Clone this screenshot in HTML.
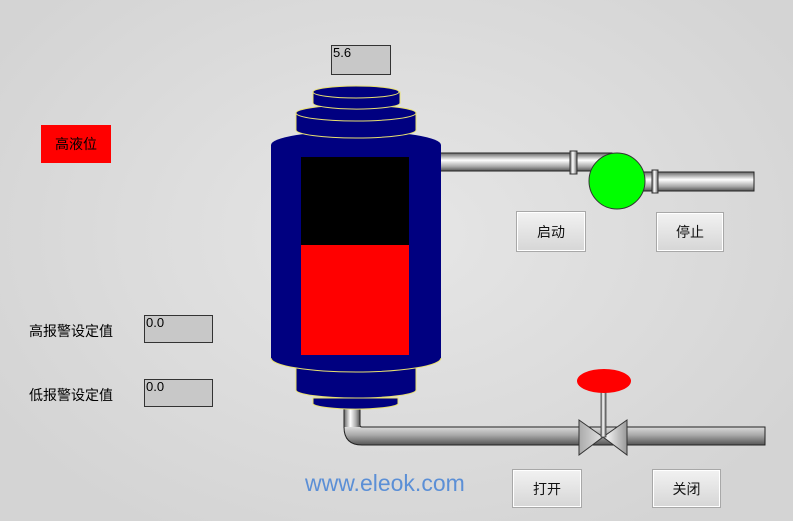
<!DOCTYPE html>
<html><head><meta charset="utf-8"><style>
body{margin:0;width:793px;height:521px;overflow:hidden;background:radial-gradient(ellipse at 50% 45%,#e6e6e6,#d4d4d4 85%);font-family:"Liberation Sans","Noto Sans CJK SC",sans-serif}
.a{position:absolute}
.btn{position:absolute;background:linear-gradient(#f2f2f2,#d6d6d6);border:1px solid #a8a8a8;box-shadow:inset 0 0 0 1px #fff;font-size:14px;display:flex;align-items:center;justify-content:center;color:#111}
.inp{position:absolute;background:#c8c8c8;border:1px solid #333;font-size:13px;line-height:14px;padding-left:1px;box-sizing:border-box}
</style></head><body>
<svg class="a" style="left:0;top:0" width="793" height="521">
<defs>
<linearGradient id="ph" x1="0" y1="0" x2="0" y2="1"><stop offset="0" stop-color="#666"/><stop offset=".4" stop-color="#fff"/><stop offset=".75" stop-color="#aaa"/><stop offset="1" stop-color="#555"/></linearGradient>
<linearGradient id="pv" x1="0" y1="0" x2="1" y2="0"><stop offset="0" stop-color="#666"/><stop offset=".4" stop-color="#fff"/><stop offset=".75" stop-color="#aaa"/><stop offset="1" stop-color="#555"/></linearGradient>
<linearGradient id="vl" x1="0" y1="0" x2="1" y2="0"><stop offset="0" stop-color="#aaa"/><stop offset=".6" stop-color="#eee"/><stop offset="1" stop-color="#999"/></linearGradient>
</defs>
<rect x="440" y="153" width="172" height="18" fill="url(#ph)" stroke="#222" stroke-width="1"/>
<rect x="630" y="172" width="124" height="19" fill="url(#ph)" stroke="#222" stroke-width="1"/>
<rect x="570" y="151" width="7" height="23" fill="url(#pv)" stroke="#333"/>
<rect x="652" y="170" width="6" height="23" fill="url(#pv)" stroke="#333"/>
<circle cx="617" cy="181" r="28" fill="#00ff00" stroke="#333"/>
<path d="M344 405 V427 Q344 445 362 445 H765 V427 H362 Q360 427 360 425 V405 Z" fill="url(#ph)" stroke="#222"/>
<rect x="344" y="405" width="16" height="22" fill="url(#pv)"/>
<path d="M344 405 V428 M360 405 V425" stroke="#222"/>
<path d="M579 420 L603 437 L579 455 Z M627 420 L603 437 L627 455 Z" fill="url(#vl)" stroke="#333"/>
<rect x="601" y="390" width="5" height="47" fill="url(#pv)" stroke="#444" stroke-width=".8"/>
<ellipse cx="604" cy="381" rx="27" ry="12" fill="#ff0000"/>
<g fill="#000080" stroke="#e8e070" stroke-width="1">
<path d="M313 398 V404 A43 6 0 0 0 398 404 V398 Z"/>
<path d="M296 365 V390 A60 8 0 0 0 416 390 V365 Z"/>
<path d="M271 145 A85 14 0 0 1 441 145 V358 A85 14 0 0 1 271 358 Z" stroke="none"/>
<path d="M271 358 A85 14 0 0 0 441 358" fill="none"/>
<path d="M296 113 V130 A60 8 0 0 0 416 130 V113 Z"/>
<ellipse cx="356" cy="113" rx="60" ry="8"/>
<path d="M313 92 V103 A43 6 0 0 0 400 103 V92 Z"/>
<ellipse cx="356" cy="92" rx="43" ry="6"/>
</g>
<rect x="301" y="157" width="108" height="88" fill="#000"/>
<rect x="301" y="245" width="108" height="110" fill="#ff0000"/>
</svg>
<div class="inp" style="left:331px;top:45px;width:60px;height:30px">5.6</div>
<div class="a" style="left:41px;top:125px;width:70px;height:38px;background:#ff0000;font-size:14px;display:flex;align-items:center;justify-content:center">高液位</div>
<div class="a" style="left:29px;top:321px;font-size:14px">高报警设定值</div>
<div class="a" style="left:29px;top:385px;font-size:14px">低报警设定值</div>
<div class="inp" style="left:144px;top:315px;width:69px;height:28px">0.0</div>
<div class="inp" style="left:144px;top:379px;width:69px;height:28px">0.0</div>
<div class="btn" style="left:516px;top:211px;width:68px;height:39px">启动</div>
<div class="btn" style="left:656px;top:212px;width:66px;height:38px">停止</div>
<div class="btn" style="left:512px;top:469px;width:68px;height:37px">打开</div>
<div class="btn" style="left:652px;top:469px;width:67px;height:37px">关闭</div>
<div class="a" style="left:305px;top:470px;font-size:23px;color:#5b8fd6">www.eleok.com</div>
</body></html>
